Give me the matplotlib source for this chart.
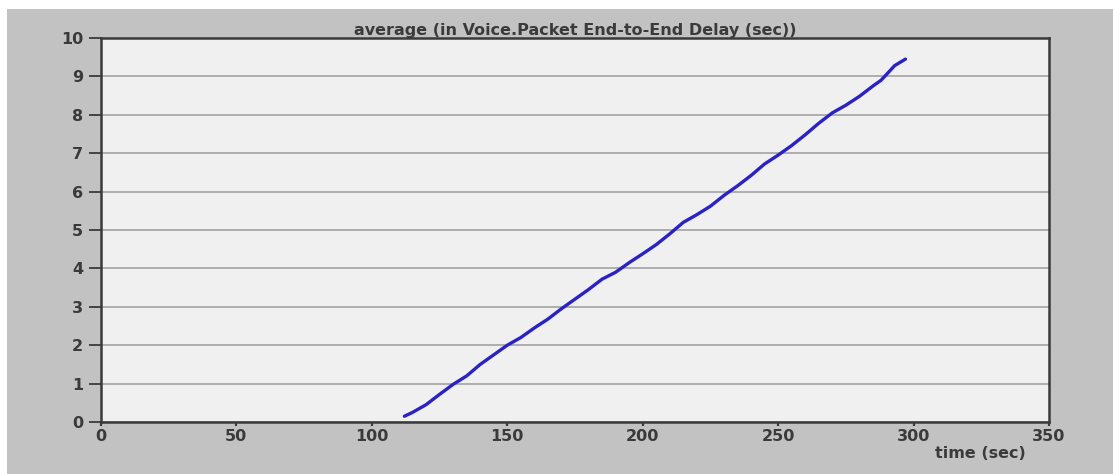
import matplotlib.pyplot as plt
from matplotlib.patches import Rectangle

plt.rcParams['font.family'] = ['DejaVu Sans']

# average voice packet end-to-end delay over simulation time
time_sec = [112, 115, 120, 125, 130, 135, 140, 145, 150, 155, 160, 165, 170,
            175, 180, 185, 190, 195, 200, 205, 210, 215, 220, 225, 230, 235,
            240, 245, 250, 255, 260, 265, 270, 275, 280, 285, 288, 290, 293, 297]
delay_sec = [0.15, 0.25, 0.45, 0.72, 0.98, 1.2, 1.5, 1.75, 2.0, 2.2, 2.45, 2.68,
             2.95, 3.2, 3.45, 3.72, 3.9, 4.15, 4.38, 4.62, 4.9, 5.2, 5.4, 5.62,
             5.9, 6.15, 6.42, 6.72, 6.95, 7.2, 7.48, 7.78, 8.05, 8.25, 8.48,
             8.75, 8.9, 9.05, 9.28, 9.45]

x_ticks = [0, 50, 100, 150, 200, 250, 300, 350]
y_ticks = list(range(0, 11))

txt = dict(fontsize=11.5, fontweight='bold', color='#3a3a3a')

fig = plt.figure(figsize=(11.13, 4.74), dpi=100, facecolor='#c2c2c2')
# thin white margin along the top and left edges
fig.add_artist(Rectangle((0, 465 / 474), 1, 9 / 474, transform=fig.transFigure,
                         facecolor='white', edgecolor='none'))
fig.add_artist(Rectangle((0, 0), 7 / 1113, 1, transform=fig.transFigure,
                         facecolor='white', edgecolor='none'))

ax = fig.add_axes([101 / 1113, 52 / 474, 948 / 1113, 384 / 474])
ax.set_facecolor('#f0f0f0')
ax.plot(time_sec, delay_sec, color='#2a22c4', linewidth=2.4, solid_capstyle='round')

ax.set_xlim(0, 350)
ax.set_ylim(0, 10)
ax.set_xticks(x_ticks)
ax.set_yticks(y_ticks)
ax.grid(axis='y', color='#a8a8a8', linewidth=1.3)
ax.set_axisbelow(True)

for s in ax.spines.values():
    s.set_color('#3a3a3a')
    s.set_linewidth(1.8)

ax.tick_params(axis='y', length=9, width=1.3, pad=4, colors='#3a3a3a')
ax.tick_params(axis='x', length=3, width=1.6, pad=2, colors='#3a3a3a')
for lbl in ax.get_xticklabels() + ax.get_yticklabels():
    lbl.set_fontsize(txt['fontsize'])
    lbl.set_fontweight(txt['fontweight'])

ax.set_title('average (in Voice.Packet End-to-End Delay (sec))', pad=2, **txt)
ax.set_xlabel('time (sec)', **txt)
ax.xaxis.set_label_coords(0.928, -0.062)

fig.savefig('out.png', dpi=100, facecolor=fig.get_facecolor())
